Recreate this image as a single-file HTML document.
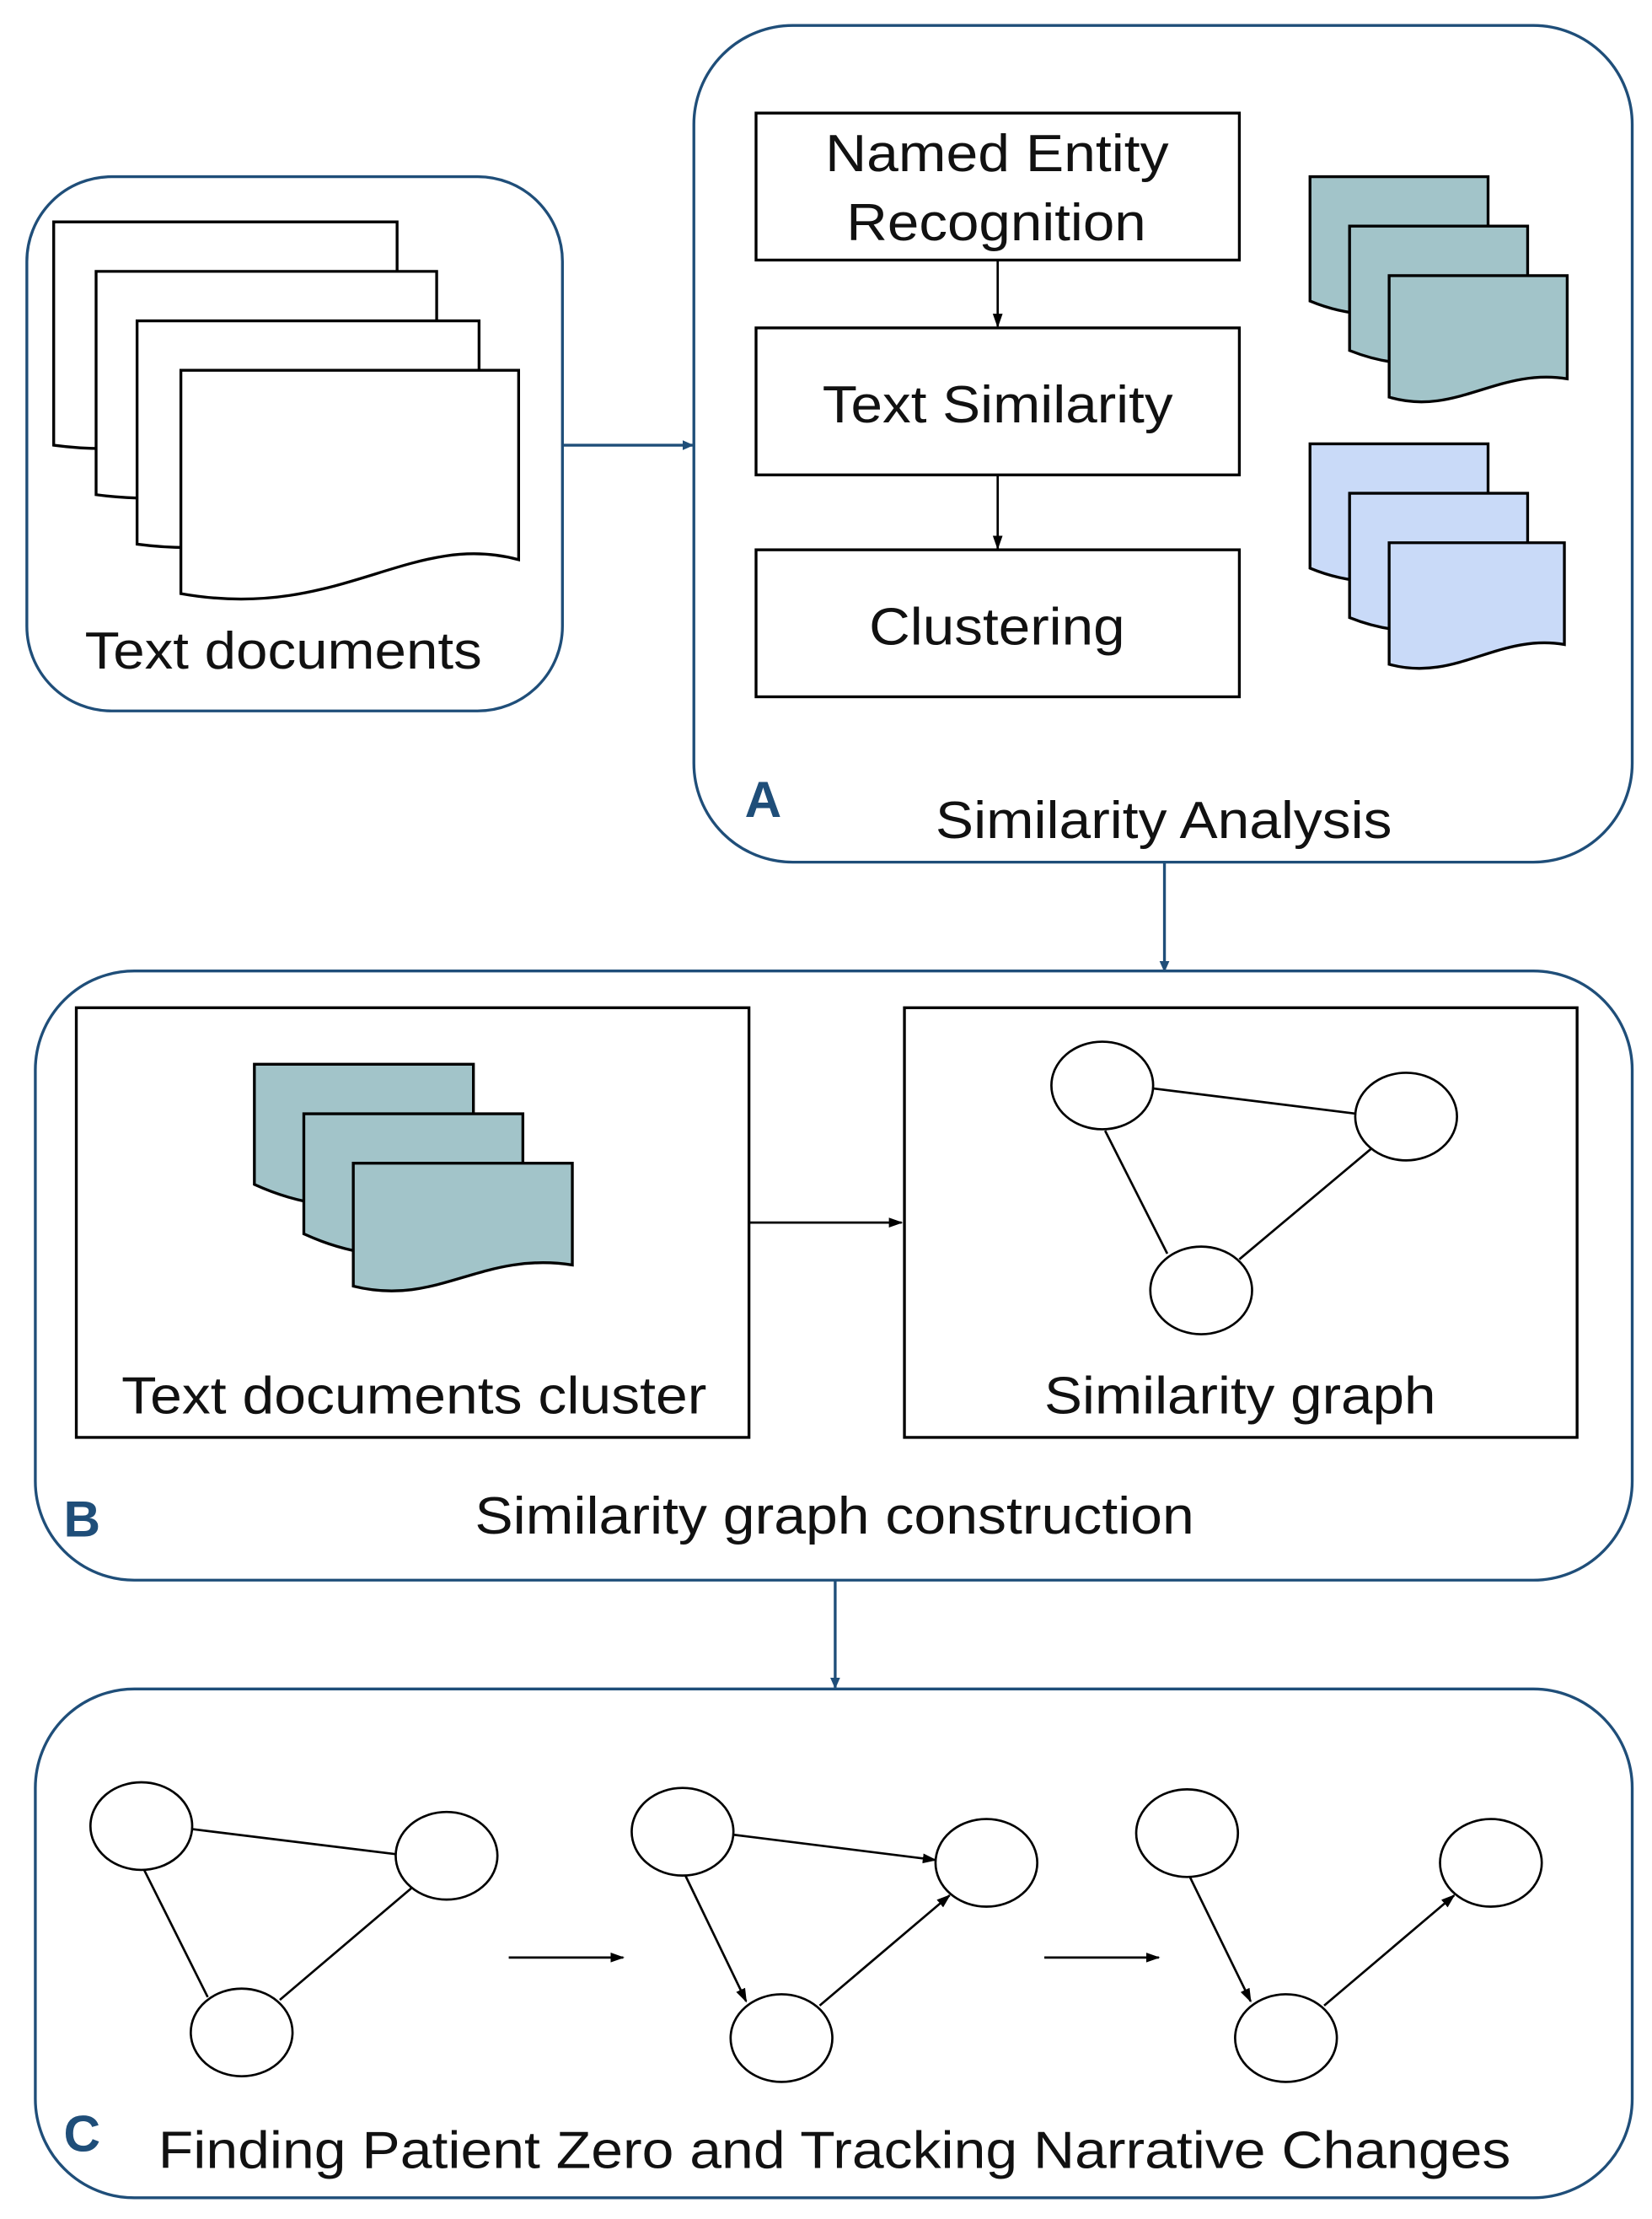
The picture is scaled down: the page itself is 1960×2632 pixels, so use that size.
<!DOCTYPE html>
<html><head><meta charset="utf-8"><style>html,body{margin:0;padding:0;background:#fff}svg{display:block}</style></head>
<body>
<svg width="1960" height="2632" viewBox="0 0 1169 1570" preserveAspectRatio="none" xmlns="http://www.w3.org/2000/svg" font-family="Liberation Sans, Arial, sans-serif">
<defs>
<marker id="ab" markerWidth="8" markerHeight="8" refX="7" refY="4" orient="auto" markerUnits="userSpaceOnUse"><path d="M0,0.5 L8,4 L0,7.5z" fill="#1f4e79"/></marker>
<marker id="ak" markerWidth="10" markerHeight="8" refX="9" refY="4" orient="auto" markerUnits="userSpaceOnUse"><path d="M0,0.5 L10,4 L0,7.5z" fill="#000"/></marker>
</defs>
<g fill="none" stroke="#1f4e79" stroke-width="2">
<rect x="19" y="125" width="379" height="378" rx="60"/>
<rect x="491" y="18" width="664" height="592" rx="70"/>
<rect x="25" y="687" width="1130" height="431" rx="70"/>
<rect x="25" y="1195" width="1130" height="360" rx="70"/>
<line x1="398" y1="315" x2="490" y2="315" marker-end="url(#ab)"/>
<line x1="824" y1="610" x2="824" y2="687" marker-end="url(#ab)"/>
<line x1="591" y1="1118" x2="591" y2="1194" marker-end="url(#ab)"/>
</g>
<g stroke="#000" stroke-width="2">
<path d="M38,157 H281 V291 C200,270 150,330 38,315 Z" fill="#fff"/>
<path d="M68,192 H309 V326 C230,305 180,365 68,350 Z" fill="#fff"/>
<path d="M97,227 H339 V361 C260,340 210,400 97,385 Z" fill="#fff"/>
<path d="M128,262 H367 V396 C290,375 240,440 128,420 Z" fill="#fff"/>
<g fill="#fff">
<rect x="535" y="80" width="342" height="104"/>
<rect x="535" y="232" width="342" height="104"/>
<rect x="535" y="389" width="342" height="104"/>
<rect x="54" y="713" width="476" height="304"/>
<rect x="640" y="713" width="476" height="304"/>
</g>
<g fill="#a2c4c9">
<path d="M927,125 H1053 V220 C1010,210 980,235 927,213 Z"/>
<path d="M955,160 H1081 V255 C1040,245 1010,270 955,248 Z"/>
<path d="M983,195 H1109 V268 C1060,260 1030,295 983,281 Z"/>
<path d="M180,753 H335 V850 C290,840 250,870 180,838 Z"/>
<path d="M215,788 H370 V885 C325,875 285,905 215,873 Z"/>
<path d="M250,823 H405 V895 C340,885 310,925 250,910 Z"/>
</g>
<g fill="#c9daf8">
<path d="M927,314 H1053 V409 C1010,399 980,424 927,402 Z"/>
<path d="M955,349 H1081 V444 C1040,434 1010,459 955,437 Z"/>
<path d="M983,384 H1107 V456 C1060,448 1030,483 983,470 Z"/>
</g>
</g>
<g stroke="#000" stroke-width="1.6" fill="none">
<line x1="706" y1="184" x2="706" y2="231" marker-end="url(#ak)"/>
<line x1="706" y1="336" x2="706" y2="388" marker-end="url(#ak)"/>
<line x1="530" y1="865" x2="638" y2="865" marker-end="url(#ak)"/>
<line x1="360" y1="1385" x2="441" y2="1385" marker-end="url(#ak)"/>
<line x1="739" y1="1385" x2="820" y2="1385" marker-end="url(#ak)"/>
<line x1="815" y1="770" x2="960" y2="788"/>
<line x1="782" y1="800" x2="826" y2="887"/>
<line x1="877" y1="891" x2="970" y2="813"/>
<ellipse cx="780" cy="768" rx="36" ry="31" fill="#fff"/>
<ellipse cx="995" cy="790" rx="36" ry="31" fill="#fff"/>
<ellipse cx="850" cy="913" rx="36" ry="31" fill="#fff"/>
<line x1="135" y1="1294" x2="281" y2="1312"/>
<line x1="102" y1="1323" x2="147" y2="1413"/>
<line x1="198" y1="1415" x2="291" y2="1336"/>
<ellipse cx="100" cy="1292" rx="36" ry="31" fill="#fff"/>
<ellipse cx="316" cy="1313" rx="36" ry="31" fill="#fff"/>
<ellipse cx="171" cy="1438" rx="36" ry="31" fill="#fff"/>
<line x1="518" y1="1298" x2="662" y2="1316" marker-end="url(#ak)"/>
<line x1="485" y1="1327" x2="528" y2="1416" marker-end="url(#ak)"/>
<line x1="580" y1="1419" x2="672" y2="1341" marker-end="url(#ak)"/>
<ellipse cx="483" cy="1296" rx="36" ry="31" fill="#fff"/>
<ellipse cx="698" cy="1318" rx="36" ry="31" fill="#fff"/>
<ellipse cx="553" cy="1442" rx="36" ry="31" fill="#fff"/>
<line x1="842" y1="1328" x2="885" y2="1416" marker-end="url(#ak)"/>
<line x1="937" y1="1419" x2="1029" y2="1341" marker-end="url(#ak)"/>
<ellipse cx="840" cy="1297" rx="36" ry="31" fill="#fff"/>
<ellipse cx="1055" cy="1318" rx="36" ry="31" fill="#fff"/>
<ellipse cx="910" cy="1442" rx="36" ry="31" fill="#fff"/>
</g>
<g font-size="37" fill="#111" lengthAdjust="spacingAndGlyphs">
<text x="60" y="473" textLength="281" lengthAdjust="spacingAndGlyphs">Text documents</text>
<text x="584" y="121" textLength="243" lengthAdjust="spacingAndGlyphs">Named Entity</text>
<text x="599" y="170" textLength="212" lengthAdjust="spacingAndGlyphs">Recognition</text>
<text x="582" y="299" textLength="248" lengthAdjust="spacingAndGlyphs">Text Similarity</text>
<text x="615" y="456" textLength="181" lengthAdjust="spacingAndGlyphs">Clustering</text>
<text x="662" y="593" textLength="323" lengthAdjust="spacingAndGlyphs">Similarity Analysis</text>
<text x="86" y="1000" textLength="414" lengthAdjust="spacingAndGlyphs">Text documents cluster</text>
<text x="739" y="1000" textLength="277" lengthAdjust="spacingAndGlyphs">Similarity graph</text>
<text x="336" y="1085" textLength="509" lengthAdjust="spacingAndGlyphs">Similarity graph construction</text>
<text x="112" y="1534" textLength="957" lengthAdjust="spacingAndGlyphs">Finding Patient Zero and Tracking Narrative Changes</text>
</g>
<g font-size="36" font-weight="bold" fill="#1f4e79">
<text x="527" y="578">A</text>
<text x="45" y="1087">B</text>
<text x="45" y="1522">C</text>
</g>
</svg>
</body></html>
